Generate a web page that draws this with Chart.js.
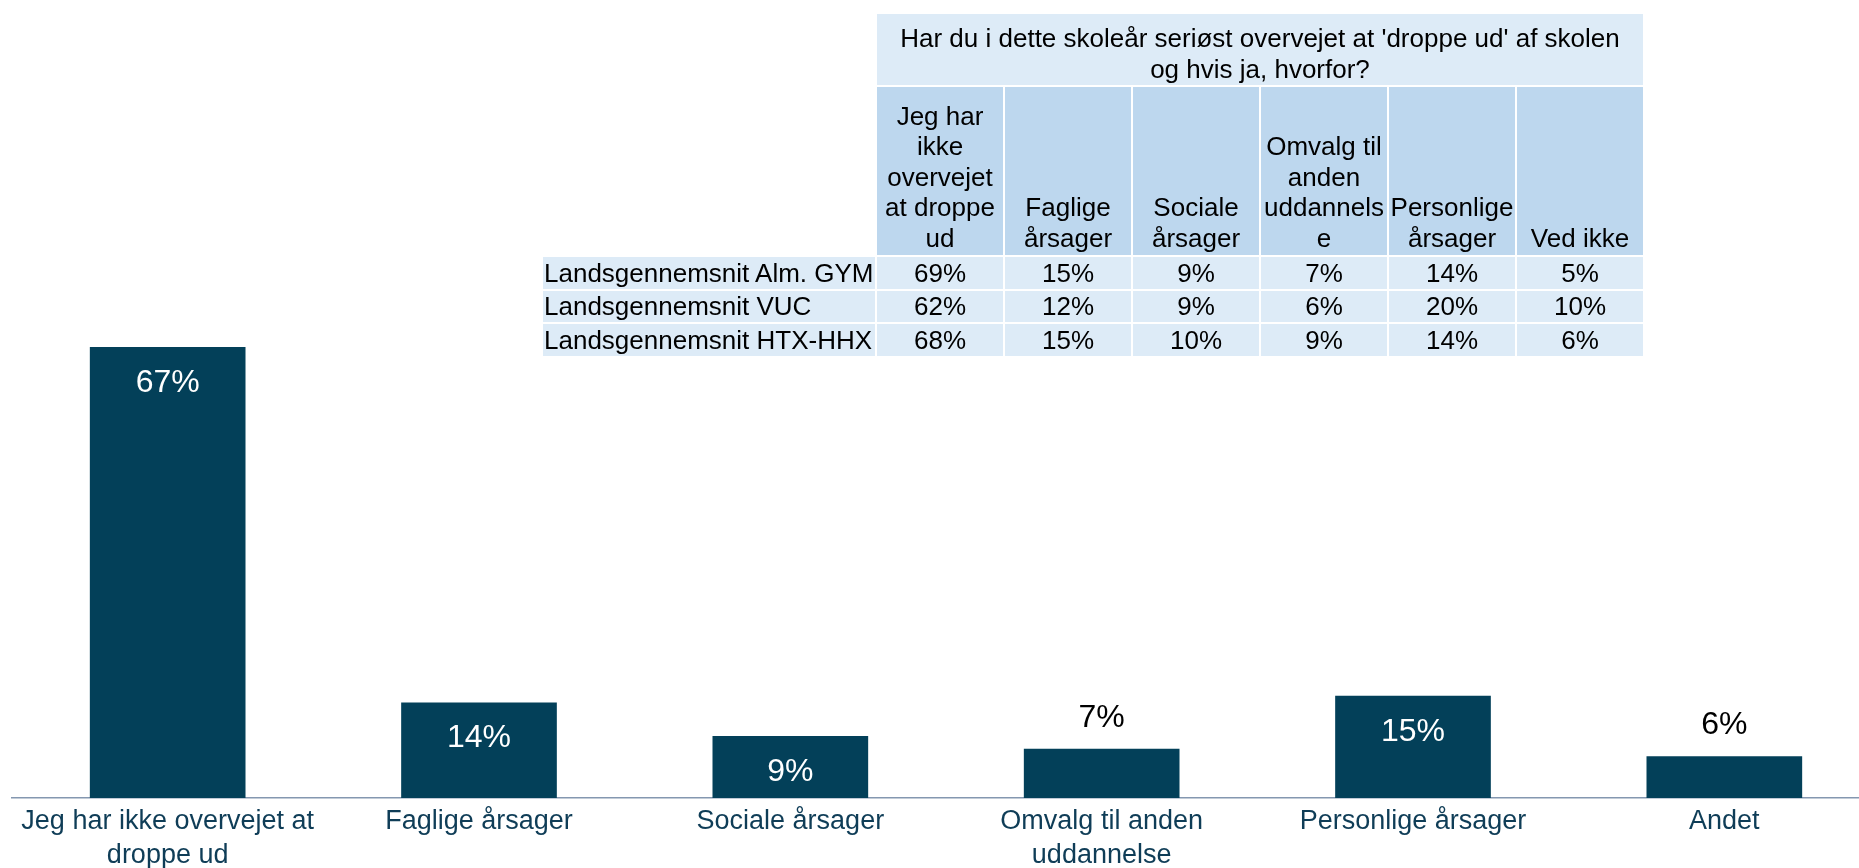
<!DOCTYPE html>
<html lang="da">
<head>
<meta charset="UTF-8">
<title>Droppe ud</title>
<script src="https://cdn.jsdelivr.net/npm/chart.js"></script>
<style>
  html, body { margin: 0; padding: 0; background: #fff; overflow: hidden; }
  #wrap { position: relative; width: 1859px; height: 868px; overflow: hidden; }
  #chart { position: absolute; left: 0; top: 0; }
  #tbl {
    position: absolute; left: 541px; top: 12px;
    border-collapse: collapse; table-layout: fixed;
    font-family: "Liberation Sans", Arial, sans-serif; font-size: 26px; color: #000;
  }
  #tbl td { border: 2px solid #fff; padding: 0; white-space: pre; }
  #tbl td.blank { background: transparent; }
  #tbl td.title { background: #ddebf7; text-align: center; vertical-align: bottom; line-height: 31px; height: 71px; }
  #tbl td.head { background: #bdd7ee; text-align: center; vertical-align: bottom; line-height: 30.5px; height: 166px; padding-bottom: 2px; }
  #tbl td.lab { background: #ddebf7; text-align: left; padding-left: 1px; height: 31.5px; line-height: 30px; }
  #tbl td.val { background: #ddebf7; text-align: center; height: 31.5px; line-height: 30px; }
</style>
</head>
<body>
<div id="wrap">
  <canvas id="chart" width="1880" height="868"></canvas>
  <table id="tbl"></table>
</div>
<script>
const categories = [['Jeg har ikke overvejet at', 'droppe ud'], 'Faglige årsager', 'Sociale årsager',
                    ['Omvalg til anden', 'uddannelse'], 'Personlige årsager', 'Andet'];
const shares = [67.0, 14.2, 9.2, 7.3, 15.2, 6.2];

// comparison table (top right)
const tableTitle = ["Har du i dette skoleår seriøst overvejet at 'droppe ud' af skolen", 'og hvis ja, hvorfor?'];
const tableColumns = [['Jeg har', 'ikke', 'overvejet', 'at droppe', 'ud'], ['Faglige', 'årsager'], ['Sociale', 'årsager'],
                      ['Omvalg til', 'anden', 'uddannels', 'e'], ['Personlige', 'årsager'], ['Ved ikke']];
const tableRows = ['Landsgennemsnit Alm. GYM', 'Landsgennemsnit VUC', 'Landsgennemsnit HTX-HHX'];
const almGym = [69, 15, 9, 7, 14, 5];
const vuc = [62, 12, 9, 6, 20, 10];
const htxHhx = [68, 15, 10, 9, 14, 6];

const FONT = '"Liberation Sans", Arial, sans-serif';

// build table
const tbl = document.getElementById('tbl');
let html = '<colgroup><col style="width:334px">';
tableColumns.forEach(() => html += '<col style="width:128px">');
html += '</colgroup>';
html += '<tr><td class="blank"></td><td class="title" colspan="' + tableColumns.length + '">' + tableTitle.join('\n') + '</td></tr>';
html += '<tr><td class="blank"></td>';
tableColumns.forEach(c => html += '<td class="head">' + c.join('\n') + '</td>');
html += '</tr>';
[almGym, vuc, htxHhx].forEach((vals, r) => {
  html += '<tr><td class="lab">' + tableRows[r] + '</td>';
  vals.forEach(v => html += '<td class="val">' + v + '%</td>');
  html += '</tr>';
});
tbl.innerHTML = html;

// value labels: inside the bar top when there is room, otherwise above
const barLabels = {
  id: 'barLabels',
  afterDatasetsDraw(chart) {
    const ctx = chart.ctx;
    const meta = chart.getDatasetMeta(0);
    ctx.save();
    ctx.font = '32px ' + FONT;
    ctx.textAlign = 'center';
    ctx.textBaseline = 'middle';
    meta.data.forEach((bar, i) => {
      const h = bar.base - bar.y;
      const txt = Math.round(shares[i]) + '%';
      if (h > 55) {
        ctx.fillStyle = '#ffffff';
        ctx.fillText(txt, bar.x, bar.y + 36);
      } else {
        ctx.fillStyle = '#000000';
        ctx.fillText(txt, bar.x, bar.y - 31);
      }
    });
    ctx.restore();
  }
};

new Chart(document.getElementById('chart'), {
  type: 'bar',
  data: {
    labels: categories,
    datasets: [{
      data: shares,
      backgroundColor: '#034059',
      barPercentage: 0.5,
      categoryPercentage: 1.0
    }]
  },
  options: {
    responsive: false,
    animation: false,
    layout: { padding: { top: 125, left: 12, right: 0, bottom: 0 } },
    plugins: { legend: { display: false }, tooltip: { enabled: false } },
    scales: {
      x: {
        grid: { display: false, drawTicks: false },
        border: { display: true, color: '#8497b0', width: 1.5 },
        ticks: {
          color: '#0f3d57',
          font: { family: FONT, size: 27, lineHeight: 1.26 },
          padding: 7,
          autoSkip: false,
          maxRotation: 0
        },
        afterFit: s => { s.height = 70; }
      },
      y: { display: false, min: 0, max: 100 }
    }
  },
  plugins: [barLabels]
});
</script>
</body>
</html>
